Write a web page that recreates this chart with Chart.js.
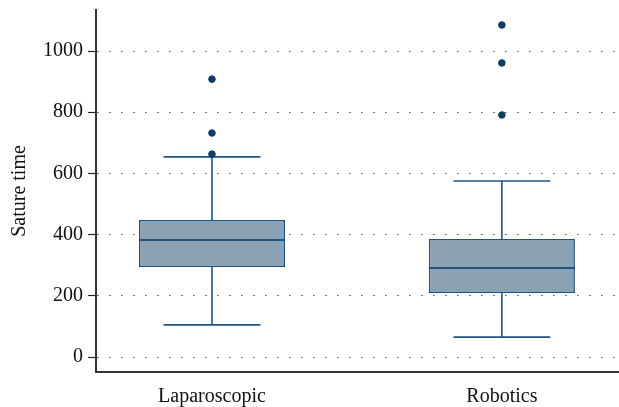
<!DOCTYPE html>
<html>
<head>
<meta charset="utf-8">
<script src="https://cdn.jsdelivr.net/npm/chart.js@4/dist/chart.umd.min.js"></script>
<style>
  html, body { margin: 0; padding: 0; background: #ffffff; }
  #wrap { width: 619px; height: 407px; }
</style>
</head>
<body>
<div id="wrap"><canvas id="c" width="619" height="407"></canvas></div>
<script>
// ---- data ----
const categories = ["Laparoscopic", "Robotics"];
const whiskerLow  = [105, 65];
const q1          = [294, 209];
const median      = [382, 291];
const q3          = [448, 386];
const whiskerHigh = [654, 575];
const outliers    = [[663, 732, 908], [791, 961, 1085]];
const yTicks      = [0, 200, 400, 600, 800, 1000];
const yTitle      = "Sature time";

const FONT = "'Liberation Serif', 'DejaVu Serif', serif";
const LINE = "#1f5480";
const FILL = "rgba(139,162,181,1)";
const DOT  = "#0f3d63";

const boxData = categories.map((c, i) => ({ x: i, y: [q1[i], q3[i]] }));
const outlierData = [];
outliers.forEach((arr, i) => arr.forEach(v => outlierData.push({ x: i, y: v })));

const boxHalf = 0.252;   // half width of box in category units
const capHalf = 0.167;   // half width of whisker cap

const whiskerPlugin = {
  id: 'whiskers',
  beforeDatasetsDraw(chart) {
    const { ctx, scales: { x, y } } = chart;
    ctx.save();
    ctx.strokeStyle = LINE;
    ctx.lineWidth = 1.6;
    categories.forEach((c, i) => {
      const cx = x.getPixelForValue(i);
      const l = x.getPixelForValue(i - capHalf), r = x.getPixelForValue(i + capHalf);
      ctx.beginPath();
      ctx.moveTo(cx, y.getPixelForValue(q3[i]));
      ctx.lineTo(cx, y.getPixelForValue(whiskerHigh[i]));
      ctx.moveTo(cx, y.getPixelForValue(q1[i]));
      ctx.lineTo(cx, y.getPixelForValue(whiskerLow[i]));
      ctx.moveTo(l, y.getPixelForValue(whiskerHigh[i]));
      ctx.lineTo(r, y.getPixelForValue(whiskerHigh[i]));
      ctx.moveTo(l, y.getPixelForValue(whiskerLow[i]));
      ctx.lineTo(r, y.getPixelForValue(whiskerLow[i]));
      ctx.stroke();
    });
    ctx.restore();
  },
  afterDatasetDraw(chart, args) {
    if (args.index !== 0) return;
    const { ctx, scales: { x, y } } = chart;
    ctx.save();
    ctx.strokeStyle = LINE;
    ctx.lineWidth = 2;
    categories.forEach((c, i) => {
      const my = y.getPixelForValue(median[i]);
      ctx.beginPath();
      ctx.moveTo(x.getPixelForValue(i - boxHalf), my);
      ctx.lineTo(x.getPixelForValue(i + boxHalf), my);
      ctx.stroke();
    });
    ctx.restore();
  }
};

new Chart(document.getElementById('c'), {
  data: {
    datasets: [
      {
        type: 'bar',
        data: boxData,
        backgroundColor: FILL,
        borderColor: LINE,
        borderWidth: 1.6,
        borderSkipped: false,
        categoryPercentage: 1,
        barPercentage: boxHalf * 2,
        order: 2
      },
      {
        type: 'scatter',
        data: outlierData,
        backgroundColor: DOT,
        borderColor: DOT,
        pointRadius: 3.3,
        pointHoverRadius: 3.3,
        order: 1
      }
    ]
  },
  options: {
    responsive: false,
    animation: false,
    devicePixelRatio: 1,
    layout: { autoPadding: false, padding: { top: 10, right: 0, bottom: -15, left: 8 } },
    plugins: { legend: { display: false }, tooltip: { enabled: false } },
    scales: {
      x: {
        type: 'linear',
        offset: false,
        min: -0.4,
        max: 1.404,
        afterBuildTicks(scale) { scale.ticks = categories.map((c, i) => ({ value: i })); },
        afterFit(scale) { scale.paddingLeft = 0; scale.paddingRight = 0; },
        ticks: {
          callback: (v) => categories[v] !== undefined ? categories[v] : '',
          color: '#111',
          font: { family: FONT, size: 20 },
          padding: 13,
          maxRotation: 0
        },
        grid: { display: false, drawTicks: false },
        border: { display: true, color: '#333', width: 2 }
      },
      y: {
        type: 'linear',
        min: -49,
        max: 1134,
        afterBuildTicks(scale) { scale.ticks = yTicks.map(v => ({ value: v })); },
        afterFit(scale) { scale.paddingTop = 0; scale.paddingBottom = 0; },
        ticks: {
          callback: (v) => String(v),
          color: '#111',
          font: { family: FONT, size: 20 },
          padding: 5
        },
        grid: {
          color: '#555',
          lineWidth: 1,
          tickColor: '#222',
          tickLength: 8,
          tickBorderDash: [],
          tickWidth: 1.2
        },
        border: { display: true, color: '#333', width: 2, dash: [1.5, 10.5], dashOffset: -12 },
        title: {
          display: true,
          text: yTitle,
          color: '#111',
          font: { family: FONT, size: 20 },
          padding: { top: 0, bottom: 6 }
        }
      }
    }
  },
  plugins: [whiskerPlugin]
});
</script>
</body>
</html>
